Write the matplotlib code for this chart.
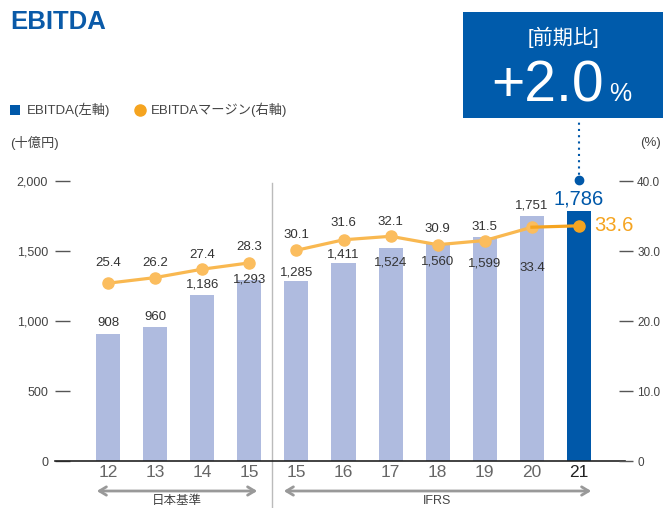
import matplotlib
matplotlib.use("Agg")
import matplotlib.pyplot as plt
from matplotlib.patches import Rectangle
from matplotlib.lines import Line2D
import matplotlib.transforms as mtransforms

plt.rcParams['font.family'] = ['Liberation Sans', 'Noto Sans CJK JP', 'DejaVu Sans']

# data
years = ['12', '13', '14', '15', '15', '16', '17', '18', '19', '20', '21']
ebitda = [908, 960, 1186, 1293, 1285, 1411, 1524, 1560, 1599, 1751, 1786]
margin = [25.4, 26.2, 27.4, 28.3, 30.1, 31.6, 32.1, 30.9, 31.5, 33.4, 33.6]
jgaap_idx = [0, 1, 2, 3]
ifrs_idx = [4, 5, 6, 7, 8, 9, 10]

# label offsets in pixels (styling only)
bar_lbl_off = [11, 10, 10, 0, 9, 9, -15, -19, -26, 10, 12]
mar_lbl_off = [20, 15, 14, 16, 15, 17, 14, 16, 13, -41, 0]

BLUE = '#0058a9'
LIGHT = '#afbbdf'
ORANGE = '#f9b850'
ORANGE_D = '#f5a420'
GRAY_TXT = '#444444'

W, H = 663, 508
fig = plt.figure(figsize=(W / 100, H / 100), dpi=100)

def fx(px):
    return px / W

def fy(py):
    return (H - py) / H

ax = fig.add_axes([fx(55), fy(461), fx(633 - 55), (461 - 181) / H])
x = list(range(len(years)))
px_per_unit = 47.1
ax.set_xlim((55 - 108) / px_per_unit, (633 - 108) / px_per_unit)
ax.set_ylim(0, 2000)

colors = [LIGHT] * (len(years) - 1) + [BLUE]
ax.bar(x, ebitda, width=0.51, color=colors, zorder=2)

for s in ax.spines.values():
    s.set_visible(False)
base_x1 = (625 - 55) / (633 - 55)
ax.plot([0, base_x1], [0, 0], transform=ax.transAxes, color='#222222', lw=1.2, clip_on=False, zorder=3)

ax.set_xticks(x)
ax.set_xticklabels(years, fontsize=12.5, color='#666666')
ax.get_xticklabels()[-1].set_color('#222222')
ax.tick_params(axis='x', length=0, pad=3)

ax.set_yticks([0, 500, 1000, 1500, 2000])
ax.set_yticklabels(['0', '500', '1,000', '1,500', '2,000'], fontsize=9, color=GRAY_TXT)
ax.tick_params(axis='y', direction='in', length=11, width=1, color='#555555', pad=5)

ax2 = ax.twinx()
ax2.set_ylim(0, 40)
for s in ax2.spines.values():
    s.set_visible(False)
ax2.set_yticks([0, 10, 20, 30, 40])
ax2.set_yticklabels(['0', '10.0', '20.0', '30.0', '40.0'], fontsize=8.5, color=GRAY_TXT)
ax2.tick_params(axis='y', direction='in', length=10, width=1, color='#555555', pad=3)

# margin lines (two separate segments)
ax2.plot(jgaap_idx, [margin[i] for i in jgaap_idx], color=ORANGE, lw=2.3, marker='o',
         markersize=8, markerfacecolor='#fbbd5e', markeredgecolor='#fbbd5e', zorder=4)
ax2.plot(ifrs_idx[:-1], [margin[i] for i in ifrs_idx[:-1]], color=ORANGE, lw=2.3, marker='o',
         markersize=8, markerfacecolor='#fbbd5e', markeredgecolor='#fbbd5e', zorder=4)
ax2.plot(ifrs_idx[-2:], [margin[i] for i in ifrs_idx[-2:]], color=ORANGE_D, lw=2.3, zorder=4)
ax2.plot([ifrs_idx[-1]], [margin[-1]], 'o', color=ORANGE_D, markersize=8, zorder=5)

# bar value labels
for i, v in enumerate(ebitda):
    if i == len(ebitda) - 1:
        ax.annotate(f'{v:,}', (i, v), xytext=(0, bar_lbl_off[i] * 0.72), textcoords='offset points',
                    ha='center', va='center', fontsize=14.5, color=BLUE, zorder=6)
    else:
        ax.annotate(f'{v:,}', (i, v), xytext=(0, bar_lbl_off[i] * 0.72), textcoords='offset points',
                    ha='center', va='center', fontsize=9.5, color='#333333', zorder=6)

# margin labels
for i, m in enumerate(margin):
    if i == len(margin) - 1:
        ax2.annotate(f'{m:.1f}', (i, m), xytext=(11, 0), textcoords='offset points',
                     ha='left', va='center', fontsize=14.5, color=ORANGE_D, zorder=6)
    else:
        ax2.annotate(f'{m:.1f}', (i, m), xytext=(0, mar_lbl_off[i] * 0.72), textcoords='offset points',
                     ha='center', va='center', fontsize=9.5, color='#333333', zorder=6)

# divider between standards
trans = mtransforms.blended_transform_factory(ax.transData, ax.transAxes)
div_x = (272 - 108) / px_per_unit
ax.plot([div_x, div_x], [(461 - 183) / 280, (461 - 508) / 280], transform=trans,
        color='#bbbbbb', lw=1, clip_on=False)

# bottom arrows and labels
arr_y = (461 - 491) / 280
for x0, x1 in [(94, 260), (281, 594)]:
    ax.annotate('', xy=((x1 - 108) / px_per_unit, arr_y), xytext=((x0 - 108) / px_per_unit, arr_y),
                xycoords=trans, textcoords=trans,
                arrowprops=dict(arrowstyle='<->,head_length=0.5,head_width=0.3', color='#999999', lw=2))
ax.text((177 - 108) / px_per_unit, (461 - 501) / 280, '日本基準', transform=trans,
        ha='center', va='center', fontsize=9, color=GRAY_TXT)
ax.text((437 - 108) / px_per_unit, (461 - 501) / 280, 'IFRS', transform=trans,
        ha='center', va='center', fontsize=9, color=GRAY_TXT)

# dotted callout line and dot
ax.plot([10, 10], [2000, 2000 + (180 - 118) / 0.14], color=BLUE, lw=1.5, ls=(0, (1, 2)),
        clip_on=False, zorder=5)
ax.plot([10], [2000 + 1 / 0.14], 'o', color=BLUE, markersize=6, clip_on=False, zorder=5)

# title
fig.text(fx(10), fy(22), 'EBITDA', fontsize=18.5, fontweight='bold', color='#0a5aa8',
         ha='left', va='center')

# highlight box
fig.patches.append(Rectangle((fx(463), fy(118)), fx(200), 106 / H, transform=fig.transFigure,
                             facecolor='#005bab', edgecolor='none', zorder=1))
fig.text(fx(563), fy(37), '[前期比]', fontsize=14.5, color='white', ha='center', va='center')
fig.text(fx(491), fy(101), '+2.0', fontsize=41, color='white', ha='left', va='baseline')
fig.text(fx(609), fy(101), '%', fontsize=18, color='white', ha='left', va='baseline')

# legend
fig.patches.append(Rectangle((fx(10), fy(115)), fx(10), 10 / H, transform=fig.transFigure,
                             facecolor=BLUE, edgecolor='none'))
fig.text(fx(27), fy(110), 'EBITDA(左軸)', fontsize=9.5, color=GRAY_TXT, ha='left', va='center')
fig.add_artist(Line2D([fx(140)], [fy(110)], marker='o', markersize=8, color=ORANGE_D,
                      transform=fig.transFigure))
fig.text(fx(151), fy(110), 'EBITDAマージン(右軸)', fontsize=9.5, color=GRAY_TXT, ha='left', va='center')

fig.text(fx(10), fy(143), '(十億円)', fontsize=9.5, color=GRAY_TXT, ha='left', va='center')
fig.text(fx(640), fy(143), '(%)', fontsize=9.5, color=GRAY_TXT, ha='left', va='center')

fig.savefig('out.png', dpi=100)
